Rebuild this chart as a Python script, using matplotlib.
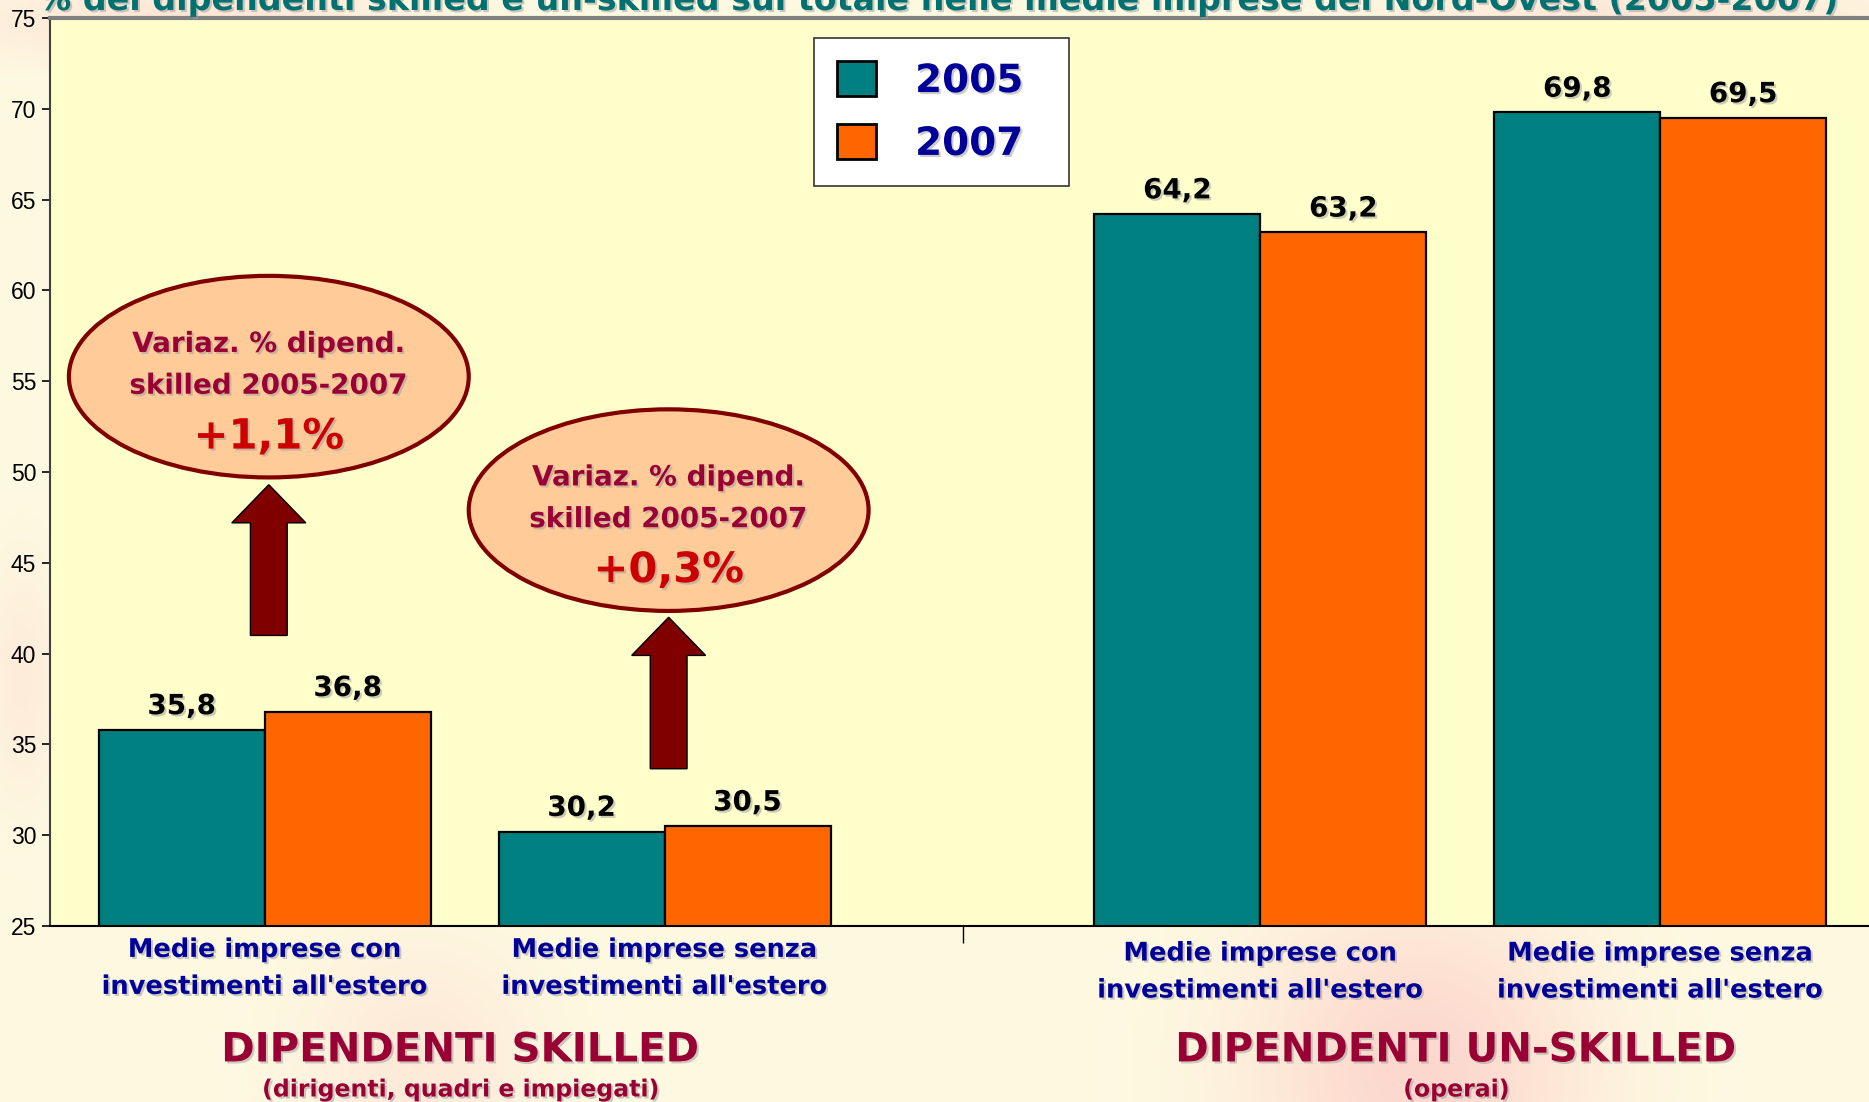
import matplotlib
matplotlib.use("Agg")
import numpy as np
import matplotlib.pyplot as plt
import matplotlib.patheffects as pe
from matplotlib.patches import Ellipse, FancyArrow, Patch

# data
categories = [
    "Medie imprese con\ninvestimenti all'estero",
    "Medie imprese senza\ninvestimenti all'estero",
    "Medie imprese con\ninvestimenti all'estero",
    "Medie imprese senza\ninvestimenti all'estero",
]
groups = ["DIPENDENTI SKILLED", "DIPENDENTI UN-SKILLED"]
group_notes = ["(dirigenti, quadri e impiegati)", "(operai)"]
years = ["2005", "2007"]
share_2005 = [35.8, 30.2, 64.2, 69.8]
share_2007 = [36.8, 30.5, 63.2, 69.5]
skilled_changes = ["+1,1%", "+0,3%"]
title = ("% dei dipendenti skilled e un-skilled sul totale nelle medie "
         "imprese del Nord-Ovest (2005-2007)")

TEAL = "#008080"
ORANGE = "#FF6600"
NAVY = "#000099"
CRIMSON = "#990033"
DARK_RED = "#800000"

shadow = [pe.withSimplePatchShadow(offset=(1.5, -1.5), shadow_rgbFace="#9a9a9a", alpha=0.5)]

fig = plt.figure(figsize=(18.69, 11.02), dpi=100)
fig.patch.set_facecolor("#FEFAE2")

# soft pink patches in the slide background
bg = fig.add_axes([0, 0, 1, 1], zorder=-1)
bg.set_axis_off()
yy, xx = np.mgrid[0:1102:4, 0:1869:4]
pink = np.zeros(xx.shape)
for cx, cy, sx, sy, a in [(1420, 1070, 170, 170, 0.75), (420, 1060, 120, 120, 0.35),
                          (180, 20, 220, 40, 0.45), (1650, 15, 260, 35, 0.4),
                          (20, 680, 40, 120, 0.3)]:
    pink += a * np.exp(-(((xx - cx) / sx) ** 2 + ((yy - cy) / sy) ** 2))
pink = np.clip(pink, 0, 1)[..., None]
cream = np.array([0.996, 0.98, 0.886])
rose = np.array([0.99, 0.80, 0.78])
bg.imshow(cream * (1 - pink) + rose * pink, extent=(0, 1869, 1102, 0),
          aspect="auto", interpolation="bilinear")

ax = fig.add_axes([0.0268, 0.1597, 0.9732, 0.824])
ax.set_facecolor("#FFFFCC")

gap = 0.49
centers = [i + (gap if i >= 2 else 0) for i in range(len(categories))]
width = 0.415

bars_a = ax.bar([c - width / 2 for c in centers], share_2005, width, color=TEAL,
                edgecolor="black", linewidth=1.6, label=years[0], zorder=2)
bars_b = ax.bar([c + width / 2 for c in centers], share_2007, width, color=ORANGE,
                edgecolor="black", linewidth=1.6, label=years[1], zorder=2)

for bars in (bars_a, bars_b):
    for bar in bars:
        h = bar.get_height()
        ax.annotate(f"{h:.1f}".replace(".", ","),
                    (bar.get_x() + bar.get_width() / 2, h),
                    xytext=(0, 7), textcoords="offset points",
                    ha="center", va="bottom", fontsize=20, fontweight="bold",
                    color="black", path_effects=shadow, zorder=4)

ax.set_ylim(25, 75)
ax.set_xlim(-0.537, 4.012)
ax.set_yticks(range(25, 76, 5))
ax.tick_params(axis="y", direction="out", length=6, width=1.2, labelsize=16.5,
               pad=4)
for t in ax.get_yticklabels():
    t.set_fontfamily("Liberation Sans")
sep = (centers[1] + centers[2]) / 2
ax.set_xticks([sep])
ax.set_xticklabels([""])
ax.tick_params(axis="x", direction="out", length=12, width=1.0)

ax.spines["right"].set_visible(False)
ax.spines["top"].set_color("#808080")
ax.spines["top"].set_linewidth(3)
ax.spines["left"].set_color("#404040")
ax.spines["left"].set_linewidth(1.5)
ax.spines["bottom"].set_color("black")
ax.spines["bottom"].set_linewidth(1.5)

# category labels under the bars
xtr = ax.get_xaxis_transform()
for i, (c, label) in enumerate(zip(centers, categories)):
    ax.text(c, -0.012 if i < 2 else -0.016, label, transform=xtr, ha="center",
            va="top", fontsize=18.5, fontweight="bold", color=NAVY,
            linespacing=1.55, path_effects=shadow, clip_on=False)

# group titles
for k, (name, note) in enumerate(zip(groups, group_notes)):
    gx = (centers[2 * k] + centers[2 * k + 1]) / 2 - 0.01
    ax.text(gx, -0.137, name, transform=xtr, ha="center", va="center",
            fontsize=29, fontweight="bold", color=CRIMSON,
            path_effects=shadow, clip_on=False)
    ax.text(gx, -0.18, note, transform=xtr, ha="center", va="center",
            fontsize=17, fontweight="bold", color=CRIMSON,
            path_effects=shadow, clip_on=False)

# change callouts for the skilled groups
ellipse_y = [55.25, 47.9]
arrow_base = [41.0, 33.66]
arrow_tip = [49.3, 42.0]
for k, change in enumerate(skilled_changes):
    cx = centers[k] + 0.01
    ax.add_patch(Ellipse((cx, ellipse_y[k]), 1.0, 11.1, facecolor="#FFCC99",
                         edgecolor=DARK_RED, linewidth=3, zorder=3))
    ax.text(cx, ellipse_y[k] + 1.8, "Variaz. % dipend.", ha="center",
            va="center", fontsize=20, fontweight="bold", color=CRIMSON,
            path_effects=shadow, zorder=4)
    ax.text(cx, ellipse_y[k] - 0.5, "skilled 2005-2007", ha="center",
            va="center", fontsize=20, fontweight="bold", color=CRIMSON,
            path_effects=shadow, zorder=4)
    ax.text(cx, ellipse_y[k] - 3.3, change, ha="center", va="center",
            fontsize=30, fontweight="bold", color="#CC0000",
            path_effects=shadow, zorder=4)
    ax.add_patch(FancyArrow(cx, arrow_base[k], 0, arrow_tip[k] - arrow_base[k],
                            width=0.092, head_width=0.185, head_length=2.1,
                            length_includes_head=True, facecolor=DARK_RED,
                            edgecolor="black", linewidth=1, zorder=3))

leg = ax.legend(handles=[Patch(facecolor=TEAL, edgecolor="black", linewidth=2),
                         Patch(facecolor=ORANGE, edgecolor="black", linewidth=2)],
                labels=years, loc="upper left",
                bbox_to_anchor=(0.4355, 0.9655 - 0.13, 0.1364, 0.13),
                bbox_transform=fig.transFigure, mode="expand",
                borderaxespad=0, fancybox=False, framealpha=1,
                edgecolor="#333333", handlelength=1.0, handleheight=1.0,
                handletextpad=1.0, labelspacing=0.62, borderpad=0.6,
                prop={"size": 28, "weight": "bold"})
leg.get_frame().set_linewidth(1.2)
leg.set_zorder(5)
for t in leg.get_texts():
    t.set_color(NAVY)
    t.set_path_effects(shadow)

# the slide title sits partly above the picture, as in the reference
fig.text(0.502, 1 - 10 / 1102, title, ha="center", va="baseline", fontsize=24,
         fontweight="bold", color="#007070", path_effects=shadow)

fig.savefig("out.png", dpi=100, facecolor=fig.get_facecolor())
